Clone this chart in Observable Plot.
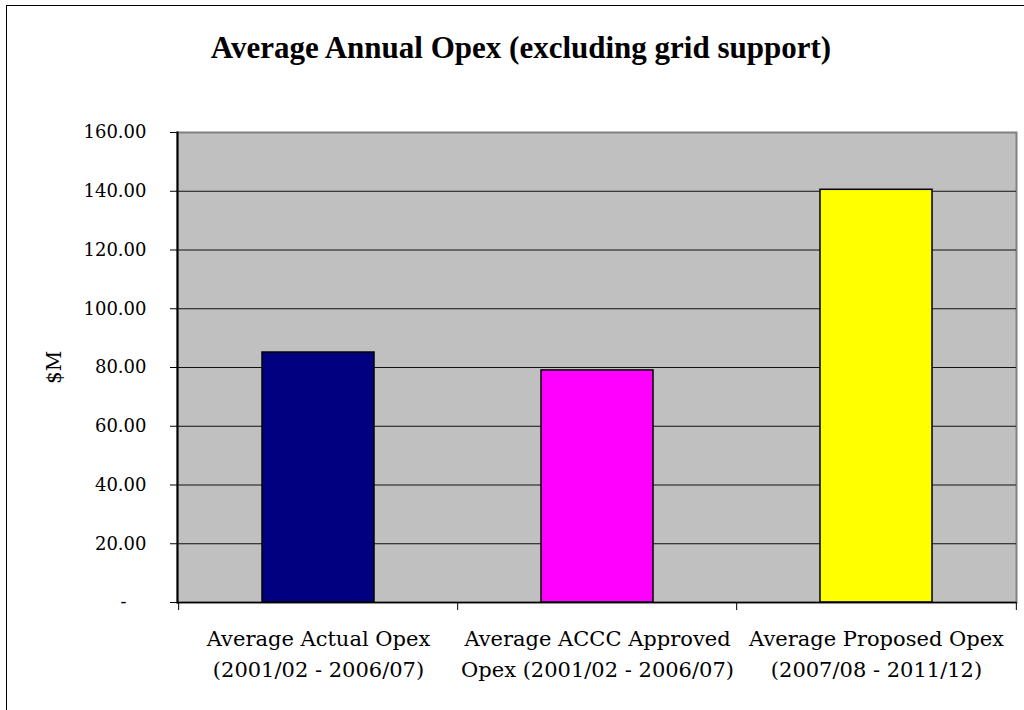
<!DOCTYPE html>
<html>
<head>
<meta charset="utf-8">
<script src="https://cdn.jsdelivr.net/npm/d3@7"></script>
<script src="https://cdn.jsdelivr.net/npm/@observablehq/plot@0.6"></script>
<style>
  html, body { margin: 0; padding: 0; background: #fff; }
  #page { position: relative; width: 1024px; height: 710px; overflow: hidden; background: #fff; }
  #border { position: absolute; left: 6px; top: 5px; width: 1100px; height: 800px; border: 1.5px solid #000; box-sizing: border-box; }
  #title { position: absolute; left: 0; top: 30px; width: 1042px; text-align: center;
           font: bold 31px "Liberation Serif", serif; color: #000; }
  #chart { position: absolute; left: 0; top: 90px; }
</style>
</head>
<body>
<div id="page">
  <div id="border"></div>
  <div id="title">Average Annual Opex (excluding grid support)</div>
  <div id="chart"></div>
</div>
<script>
// Average annual operating expenditure, $M
const categories = [
  "Average Actual Opex\n(2001/02 - 2006/07)",
  "Average ACCC Approved\nOpex (2001/02 - 2006/07)",
  "Average Proposed Opex\n(2007/08 - 2011/12)"
];
const values = [85.1, 79.0, 140.5];
const colors = ["#000080", "#ff00ff", "#ffff00"];
const yTicks = [20, 40, 60, 80, 100, 120, 140, 160];
const gridTicks = [20, 40, 60, 80, 100, 120, 140];

const data = categories.map((c, i) => ({category: c, value: values[i], color: colors[i]}));

const width = 1024, height = 620;
const marginLeft = 177, marginRight = 8, marginTop = 42, marginBottom = 108;
const step = (width - marginLeft - marginRight) / categories.length;
const plotHeight = height - marginTop - marginBottom;

const chart = Plot.plot({
  width, height, marginLeft, marginRight, marginTop, marginBottom,
  style: {fontFamily: "'DejaVu Serif', serif", fontSize: "18px", color: "#000", background: "transparent"},
  x: {domain: categories, paddingInner: 0.6, paddingOuter: 0.3, axis: null},
  y: {domain: [0, 160], axis: null},
  marks: [
    Plot.frame({fill: "#c0c0c0", stroke: "#808080", strokeWidth: 2}),
    Plot.ruleY(gridTicks, {stroke: "#111", strokeWidth: 1.2}),
    Plot.barY(data, {x: "category", y: "value", fill: "color", stroke: "#000", strokeWidth: 1.5}),
    // value axis
    Plot.axisY({ticks: yTicks, tickFormat: d => d.toFixed(2), tickSize: 7, tickPadding: 24,
                fontSize: 18, label: null}),
    Plot.axisY({ticks: [0], tickFormat: () => "-", tickSize: 7, tickPadding: 44, fontSize: 18, label: null}),
    Plot.frame({anchor: "left", stroke: "#000", strokeWidth: 2}),
    Plot.ruleY([0], {stroke: "#000", strokeWidth: 1.5}),
    // category boundary ticks below the baseline
    Plot.ruleX(categories, {x: d => d, dx: -step / 2, insetTop: plotHeight, insetBottom: -8, stroke: "#000"}),
    Plot.ruleX(categories.slice(-1), {x: d => d, dx: step / 2, insetTop: plotHeight, insetBottom: -8, stroke: "#000"}),
    // category labels
    Plot.axisX({tickSize: 0, tickPadding: 21, fontSize: 21, lineHeight: 1.48, label: null}),
    // value axis title
    Plot.text(["$M"], {text: d => d, frameAnchor: "left", textAnchor: "middle", rotate: -90, dx: -123, fontSize: 20})
  ]
});
document.getElementById("chart").appendChild(chart);
</script>
</body>
</html>
